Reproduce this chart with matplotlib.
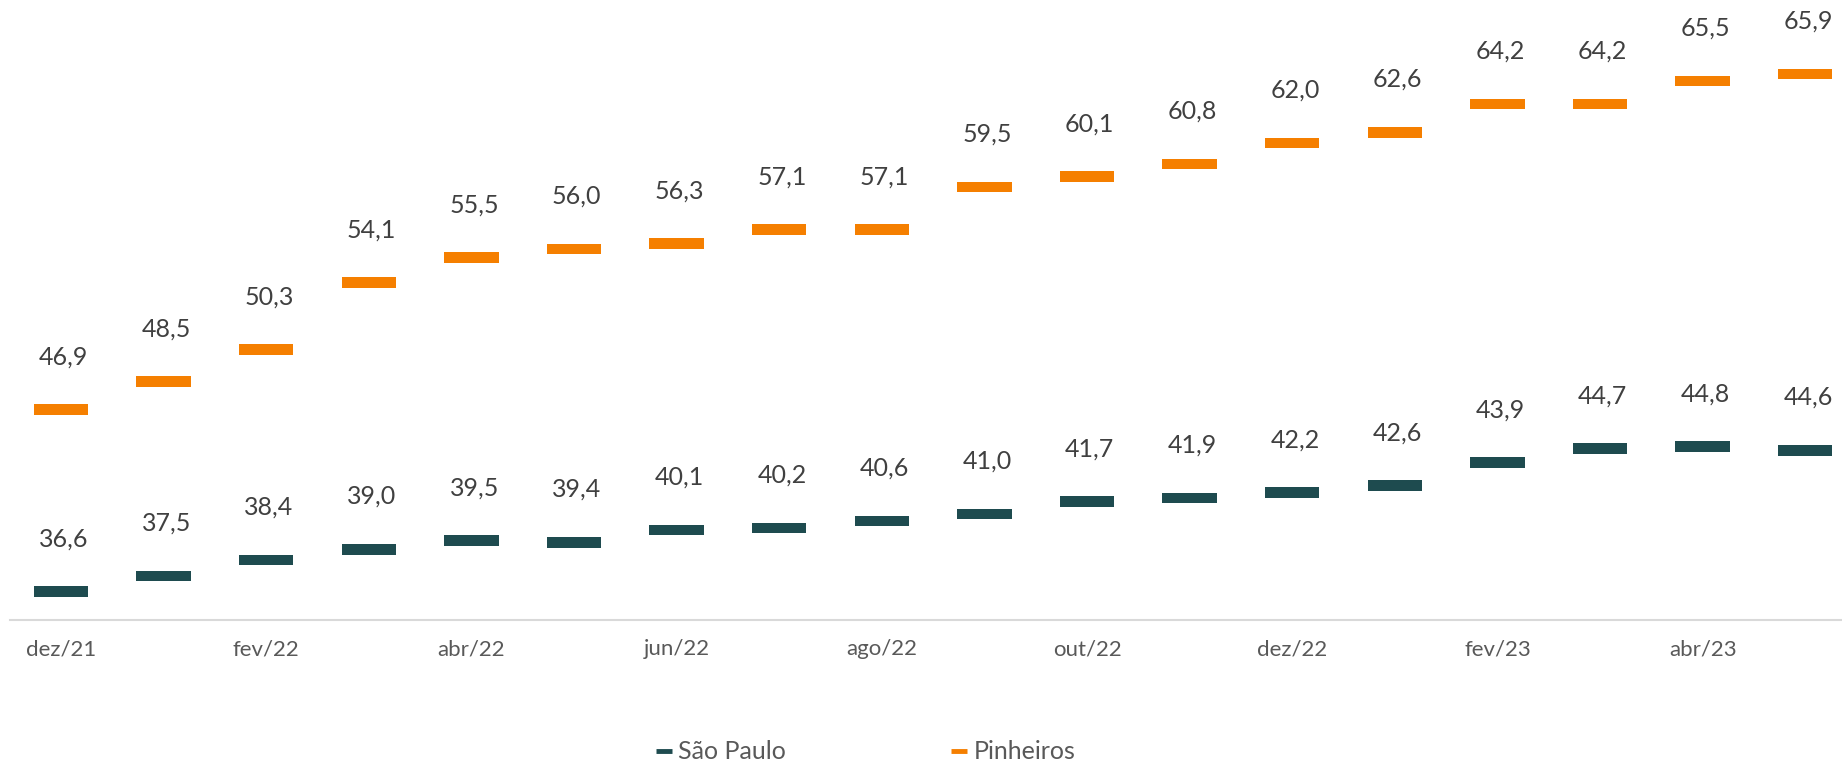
import matplotlib
matplotlib.use('Agg')
import matplotlib.pyplot as plt
from matplotlib.lines import Line2D
import numpy as np

plt.rcParams['font.family'] = ['Lato', 'DejaVu Sans']

meses = ['dez/21', 'jan/22', 'fev/22', 'mar/22', 'abr/22', 'mai/22', 'jun/22', 'jul/22', 'ago/22',
         'set/22', 'out/22', 'nov/22', 'dez/22', 'jan/23', 'fev/23', 'mar/23', 'abr/23', 'mai/23']
sao_paulo = [36.6, 37.5, 38.4, 39.0, 39.5, 39.4, 40.1, 40.2, 40.6,
             41.0, 41.7, 41.9, 42.2, 42.6, 43.9, 44.7, 44.8, 44.6]
pinheiros = [46.9, 48.5, 50.3, 54.1, 55.5, 56.0, 56.3, 57.1, 57.1,
             59.5, 60.1, 60.8, 62.0, 62.6, 64.2, 64.2, 65.5, 65.9]

cor_sp = '#1e4b4f'
cor_pin = '#f57f00'

fig = plt.figure(figsize=(18.42, 7.64), dpi=100)
ax = fig.add_axes([0.00527, 0.1885, 1.0026, 0.8096])

x = np.arange(len(meses))
h = 0.6   # espessura do traco (unidades do eixo y)
w = 0.53
for serie, cor in [(sao_paulo, cor_sp), (pinheiros, cor_pin)]:
    v = np.array(serie)
    ax.bar(x, h, bottom=v - h / 2, width=w, color=cor, zorder=3)
    for xi, vi in zip(x, v):
        ax.annotate(f'{vi:.1f}'.replace('.', ','), (xi, vi), xytext=(2, 38),
                    textcoords='offset points', ha='center', va='center',
                    fontsize=18, color='#404040')

ax.set_xlim(-0.5, len(meses) - 0.5)
ax.set_ylim(35, 70)
ax.set_yticks([])
ax.set_xticks(x[::2])
ax.set_xticklabels(meses[::2], fontsize=16, color='#595959')
ax.tick_params(axis='x', length=0, pad=14)
for s in ['top', 'right', 'left']:
    ax.spines[s].set_visible(False)
ax.spines['bottom'].set_color('#d9d9d9')
ax.spines['bottom'].set_linewidth(1.5)

handles = [Line2D([], [], color=cor_sp, lw=3.5, solid_capstyle='butt'),
           Line2D([], [], color=cor_pin, lw=3.5, solid_capstyle='butt')]
fig.legend(handles, ['São Paulo', 'Pinheiros'], loc='center', bbox_to_anchor=(0.47, 0.016),
           ncol=2, frameon=False, fontsize=18, labelcolor='#595959',
           handlelength=0.64, handletextpad=0.25, columnspacing=6.6)

fig.savefig('out.png', dpi=100)
